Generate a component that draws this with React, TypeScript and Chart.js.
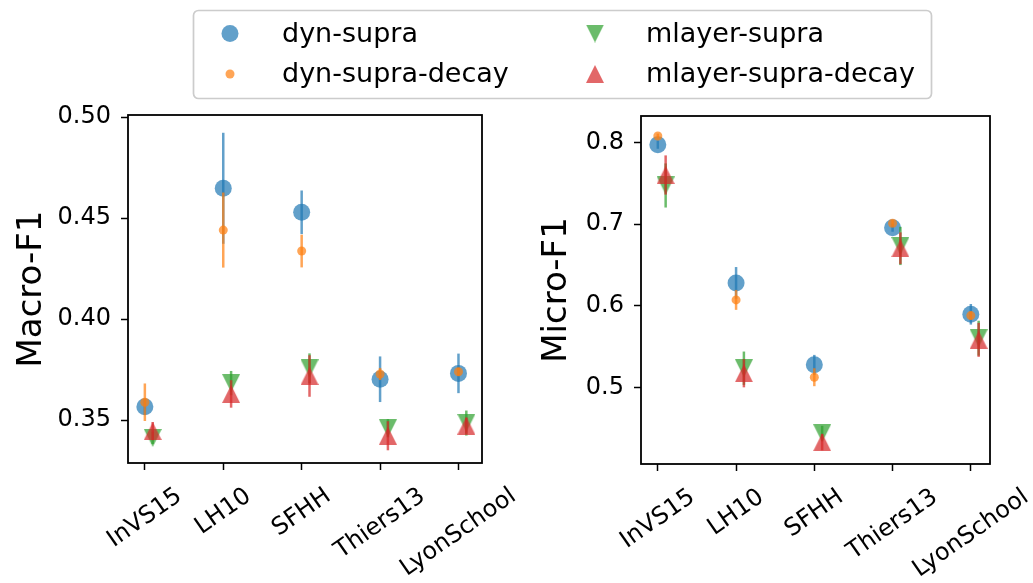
import React, { useEffect, useRef } from 'react';
import { Chart, registerables } from 'chart.js';

Chart.register(...registerables);

// ---------------- data ----------------
const categories = ['InVS15', 'LH10', 'SFHH', 'Thiers13', 'LyonSchool'];
const seriesLabels = ['dyn-supra', 'dyn-supra-decay', 'mlayer-supra', 'mlayer-supra-decay'];
const seriesXOffset = [0, 0, 0.1, 0.1];

const macroDynSupra = [0.3566, 0.4648, 0.4529, 0.3702, 0.3731];
const macroDynSupraErr = [0.004, 0.0275, 0.0108, 0.0113, 0.0098];
const macroDynSupraDecay = [0.3588, 0.4441, 0.4337, 0.3728, 0.3739];
const macroDynSupraDecayErr = [0.0093, 0.0186, 0.0081, 0.003, 0.002];
const macroMlayerSupra = [0.3411, 0.3683, 0.3756, 0.3459, 0.3485];
const macroMlayerSupraErr = [0.003, 0.006, 0.0074, 0.0045, 0.0062];
const macroMlayerSupraDecay = [0.3445, 0.3629, 0.3718, 0.3422, 0.3472];
const macroMlayerSupraDecayErr = [0.0045, 0.0068, 0.0103, 0.0072, 0.004];

const microDynSupra = [0.7971, 0.628, 0.5277, 0.6956, 0.5896];
const microDynSupraErr = [0.005, 0.0194, 0.0122, 0.005, 0.0126];
const microDynSupraDecay = [0.8077, 0.6072, 0.5126, 0.701, 0.588];
const microDynSupraDecayErr = [0.003, 0.0122, 0.011, 0.004, 0.005];
const microMlayerSupra = [0.7472, 0.5236, 0.4441, 0.6732, 0.5603];
const microMlayerSupraErr = [0.027, 0.0204, 0.009, 0.0234, 0.0214];
const microMlayerSupraDecay = [0.76, 0.5175, 0.4331, 0.6704, 0.5583];
const microMlayerSupraDecayErr = [0.024, 0.0173, 0.01, 0.0194, 0.0208];

const macroYTicks = [0.35, 0.4, 0.45, 0.5];
const macroYTickLabels = ['0.35', '0.40', '0.45', '0.50'];
const microYTicks = [0.5, 0.6, 0.7, 0.8];
const microYTickLabels = ['0.5', '0.6', '0.7', '0.8'];

// ---------------- styles ----------------
const FONT = '"DejaVu Sans", "Liberation Sans", sans-serif';
const COLORS = [
  'rgba(31,119,180,0.7)',
  'rgba(255,127,14,0.7)',
  'rgba(44,160,44,0.7)',
  'rgba(214,39,40,0.7)',
];
const TICK_FONT = 24;
const TITLE_FONT = 34;
const LEGEND_FONT = 27;
const X_LABEL_ROTATION = 35;

function makeTriangle(color: string, down: boolean, size: number): HTMLCanvasElement {
  const c = document.createElement('canvas');
  c.width = size;
  c.height = size;
  const g = c.getContext('2d')!;
  g.fillStyle = color;
  g.beginPath();
  if (down) {
    g.moveTo(0, 0);
    g.lineTo(size, 0);
    g.lineTo(size / 2, size);
  } else {
    g.moveTo(size / 2, 0);
    g.lineTo(size, size);
    g.lineTo(0, size);
  }
  g.closePath();
  g.fill();
  return c;
}

type Marker = { style: any; radius: number };

function makeMarkers(): Marker[] {
  return [
    { style: 'circle', radius: 8.5 },
    { style: 'circle', radius: 4.5 },
    { style: makeTriangle(COLORS[2], true, 18), radius: 9 },
    { style: makeTriangle(COLORS[3], false, 18), radius: 9 },
  ];
}

const errorBarPlugin = {
  id: 'errorBars',
  beforeDatasetDraw(chart: any, args: any) {
    const ds = chart.data.datasets[args.index];
    const errs: number[] = ds.errors;
    if (!errs) return;
    const ys = chart.scales.y;
    const ctx = chart.ctx;
    ctx.save();
    ctx.strokeStyle = ds.errorColor;
    ctx.lineWidth = 2.5;
    ctx.lineCap = 'butt';
    args.meta.data.forEach((pt: any, i: number) => {
      const v = ds.data[i].y;
      const e = errs[i];
      ctx.beginPath();
      ctx.moveTo(pt.x, ys.getPixelForValue(v - e));
      ctx.lineTo(pt.x, ys.getPixelForValue(v + e));
      ctx.stroke();
    });
    ctx.restore();
  },
};

const framePlugin = {
  id: 'frame',
  afterDatasetsDraw(chart: any) {
    const { ctx, chartArea: a } = chart;
    ctx.save();
    ctx.strokeStyle = '#000';
    ctx.lineWidth = 1.8;
    ctx.strokeRect(a.left, a.top, a.right - a.left, a.bottom - a.top);
    ctx.restore();
  },
};

const xLabelPlugin = {
  id: 'xLabels',
  afterDraw(chart: any, _args: any, opts: any) {
    const labels: string[] = opts.labels || [];
    const { ctx, chartArea } = chart;
    const xs = chart.scales.x;
    const ang = (opts.rotation * Math.PI) / 180;
    ctx.save();
    ctx.font = `${opts.size}px ${FONT}`;
    ctx.fillStyle = '#000';
    ctx.textAlign = 'center';
    ctx.textBaseline = 'middle';
    labels.forEach((lab, i) => {
      const x = xs.getPixelForValue(i);
      const L = ctx.measureText(lab).width;
      const h = opts.size;
      const bh = L * Math.sin(ang) + h * Math.cos(ang);
      const cy = chartArea.bottom + opts.gap + bh / 2;
      ctx.save();
      ctx.translate(x, cy);
      ctx.rotate(-ang);
      ctx.fillText(lab, 0, 0);
      ctx.restore();
    });
    ctx.restore();
  },
};

const legendPlugin = {
  id: 'figLegend',
  afterDraw(chart: any, _args: any, opts: any) {
    if (!opts || !opts.display) return;
    const ctx = chart.ctx;
    const { x, y, w, h, r } = opts.box;
    ctx.save();
    ctx.beginPath();
    ctx.moveTo(x + r, y);
    ctx.lineTo(x + w - r, y);
    ctx.arcTo(x + w, y, x + w, y + r, r);
    ctx.lineTo(x + w, y + h - r);
    ctx.arcTo(x + w, y + h, x + w - r, y + h, r);
    ctx.lineTo(x + r, y + h);
    ctx.arcTo(x, y + h, x, y + h - r, r);
    ctx.lineTo(x, y + r);
    ctx.arcTo(x, y, x + r, y, r);
    ctx.closePath();
    ctx.fillStyle = 'rgba(255,255,255,0.8)';
    ctx.fill();
    ctx.strokeStyle = '#cccccc';
    ctx.lineWidth = 1.7;
    ctx.stroke();

    const dsets = chart.data.datasets;
    ctx.font = `${opts.size}px ${FONT}`;
    ctx.textAlign = 'left';
    ctx.textBaseline = 'alphabetic';
    ctx.fillStyle = '#000';
    dsets.forEach((ds: any, i: number) => {
      const col = Math.floor(i / 2);
      const row = i % 2;
      const mx = opts.markerX[col];
      const my = opts.rowY[row];
      const style = ds.pointStyle;
      if (typeof style === 'object') {
        ctx.drawImage(style, mx - style.width / 2, my - style.height / 2);
      } else {
        ctx.beginPath();
        ctx.fillStyle = ds.backgroundColor;
        ctx.arc(mx, my, ds.pointRadius, 0, Math.PI * 2);
        ctx.fill();
      }
      ctx.fillStyle = '#000';
      ctx.fillText(ds.label, opts.textX[col], opts.baseY[row]);
    });
    ctx.restore();
  },
};

type PanelCfg = {
  values: number[][];
  errors: number[][];
  yTicks: number[];
  yTickLabels: string[];
  yTitle: string;
  yMin: number;
  yMax: number;
  xMin: number;
  xMax: number;
  padding: { left: number; right: number; top: number; bottom: number };
  yAxisWidth: number;
  xAxisHeight: number;
  titlePad: number;
  legend: boolean;
};

function makePanel(canvas: HTMLCanvasElement, cfg: PanelCfg): Chart {
  const markers = makeMarkers();
  const orders = [4, 3, 2, 1];
  const datasets = cfg.values.map((vals, s) => ({
    label: seriesLabels[s],
    data: vals.map((v, i) => ({ x: i + seriesXOffset[s], y: v })),
    errors: cfg.errors[s],
    errorColor: COLORS[s],
    pointStyle: markers[s].style,
    pointRadius: markers[s].radius,
    pointHoverRadius: markers[s].radius,
    backgroundColor: COLORS[s],
    borderColor: COLORS[s],
    pointBorderWidth: 0,
    borderWidth: 0,
    order: orders[s],
    clip: false,
  }));

  const gridCommon = {
    drawOnChartArea: false,
    drawTicks: true,
    tickLength: 7,
    tickWidth: 1.5,
    tickColor: '#000',
    color: '#000',
  };

  return new Chart(canvas, {
    type: 'scatter',
    data: { datasets: datasets as any },
    plugins: [errorBarPlugin, framePlugin, xLabelPlugin, legendPlugin],
    options: {
      animation: false,
      responsive: false,
      events: [],
      layout: { padding: cfg.padding },
      plugins: {
        legend: { display: false },
        tooltip: { enabled: false },
        xLabels: { labels: categories, rotation: X_LABEL_ROTATION, size: TICK_FONT, gap: 21 },
        figLegend: {
          display: cfg.legend,
          box: { x: 193.5, y: 10.5, w: 738, h: 88, r: 5 },
          size: LEGEND_FONT,
          markerX: [230, 595],
          rowY: [33.5, 74],
          textX: [282, 646],
          baseY: [42, 82],
        },
      } as any,
      scales: {
        x: {
          type: 'linear',
          min: cfg.xMin,
          max: cfg.xMax,
          afterBuildTicks: (s: any) => {
            s.ticks = categories.map((_, i) => ({ value: i }));
          },
          afterFit: (s: any) => {
            s.height = cfg.xAxisHeight;
          },
          ticks: { display: false },
          grid: gridCommon,
          border: { display: false },
        },
        y: {
          type: 'linear',
          min: cfg.yMin,
          max: cfg.yMax,
          afterBuildTicks: (s: any) => {
            s.ticks = cfg.yTicks.map((v) => ({ value: v }));
          },
          afterFit: (s: any) => {
            s.width = cfg.yAxisWidth;
          },
          ticks: {
            font: { family: FONT, size: TICK_FONT },
            color: '#000',
            padding: 10,
            callback: (_v: any, i: number) => cfg.yTickLabels[i],
          },
          grid: gridCommon,
          border: { display: false },
          title: {
            display: true,
            text: cfg.yTitle,
            color: '#000',
            font: { family: FONT, size: TITLE_FONT, lineHeight: 1.2 },
            padding: { top: cfg.titlePad, bottom: 0 },
          },
        },
      } as any,
    },
  });
}

const leftPanel: PanelCfg = {
  values: [macroDynSupra, macroDynSupraDecay, macroMlayerSupra, macroMlayerSupraDecay],
  errors: [macroDynSupraErr, macroDynSupraDecayErr, macroMlayerSupraErr, macroMlayerSupraDecayErr],
  yTicks: macroYTicks,
  yTickLabels: macroYTickLabels,
  yTitle: 'Macro-F1',
  yMin: 0.3287,
  yMax: 0.5011,
  xMin: -0.215,
  xMax: 4.3,
  padding: { left: 0, right: 551, top: 115, bottom: 0 },
  yAxisWidth: 128,
  xAxisHeight: 120,
  titlePad: 12,
  legend: true,
};

const rightPanel: PanelCfg = {
  values: [microDynSupra, microDynSupraDecay, microMlayerSupra, microMlayerSupraDecay],
  errors: [microDynSupraErr, microDynSupraDecayErr, microMlayerSupraErr, microMlayerSupraDecayErr],
  yTicks: microYTicks,
  yTickLabels: microYTickLabels,
  yTitle: 'Micro-F1',
  yMin: 0.4064,
  yMax: 0.8322,
  xMin: -0.215,
  xMax: 4.245,
  padding: { left: 0, right: 43, top: 116, bottom: 0 },
  yAxisWidth: 125,
  xAxisHeight: 119,
  titlePad: 21,
  legend: false,
};

export default function App() {
  const leftRef = useRef<HTMLCanvasElement>(null);
  const rightRef = useRef<HTMLCanvasElement>(null);

  useEffect(() => {
    const charts = [makePanel(leftRef.current!, leftPanel), makePanel(rightRef.current!, rightPanel)];
    return () => charts.forEach((c) => c.destroy());
  }, []);

  return (
    <div
      style={{
        position: 'absolute',
        left: 0,
        top: 0,
        width: 1033,
        height: 583,
        overflow: 'hidden',
        background: '#fff',
      }}
    >
      <canvas
        ref={leftRef}
        width={1033}
        height={583}
        style={{ position: 'absolute', left: 0, top: 0, width: 1033, height: 583 }}
      />
      <canvas
        ref={rightRef}
        width={517}
        height={583}
        style={{ position: 'absolute', left: 516, top: 0, width: 517, height: 583 }}
      />
    </div>
  );
}
